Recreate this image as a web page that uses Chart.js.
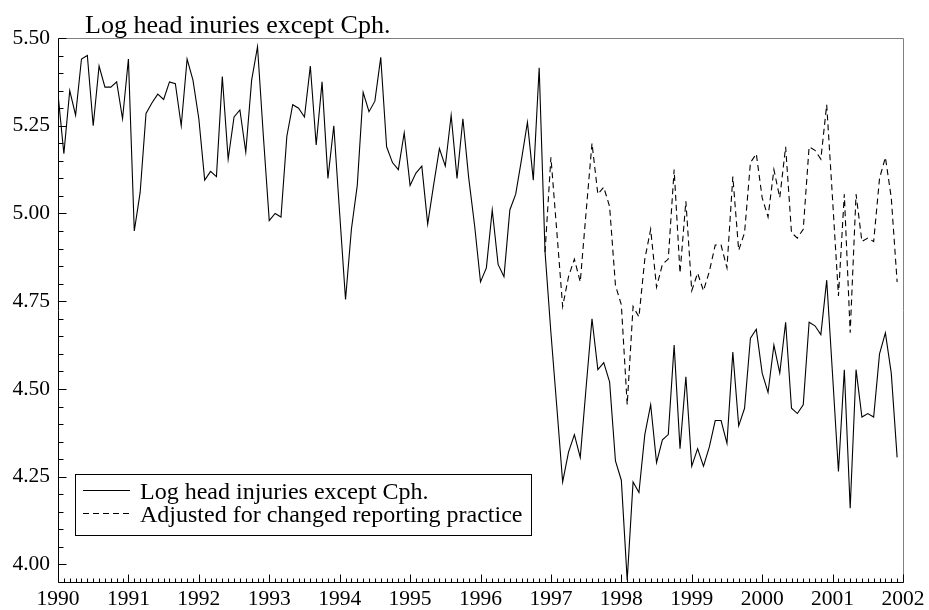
<!DOCTYPE html>
<html>
<head>
<meta charset="utf-8">
<script src="https://cdn.jsdelivr.net/npm/chart.js@4.4.0/dist/chart.umd.min.js"></script>
<style>
  html, body { margin: 0; padding: 0; background: #fff; }
  #wrap { width: 929px; height: 610px; }
</style>
</head>
<body>
<div id="wrap"><canvas id="chart" width="929" height="610"></canvas></div>
<script>
// ── Data ──────────────────────────────────────────────────────────────────
const TITLE        = 'Log head inuries except Cph.';
const SERIES_NAMES = ['Log head injuries except Cph.', 'Adjusted for changed reporting practice'];
const START_YEAR   = 1990;   // first month = Jan 1990
const ADJ_START    = 83;     // adjusted series starts Dec 1996 (month index)

// monthly, Jan 1990 .. Dec 2001
const headInjuries = [
  5.34, 5.17, 5.35, 5.28, 5.44, 5.45, 5.25, 5.42, 5.36, 5.36, 5.375, 5.27,
  5.44, 4.95, 5.06, 5.285, 5.315, 5.34, 5.325, 5.375, 5.37, 5.25, 5.44, 5.38,
  5.27, 5.095, 5.12, 5.105, 5.39, 5.155, 5.275, 5.295, 5.175, 5.38, 5.475, 5.22,
  4.98, 5.00, 4.99, 5.22, 5.31, 5.30, 5.275, 5.42, 5.195, 5.375, 5.10, 5.25,
  5.00, 4.755, 4.955, 5.08, 5.345, 5.29, 5.32, 5.445, 5.19, 5.145, 5.125, 5.23,
  5.08, 5.115, 5.135, 4.97, 5.08, 5.185, 5.135, 5.28, 5.10, 5.27, 5.10, 4.965,
  4.805, 4.845, 5.01, 4.855, 4.82, 5.01, 5.055, 5.155, 5.26, 5.095, 5.415, 4.89,
  4.66, 4.45, 4.235, 4.32, 4.37, 4.305, 4.505, 4.70, 4.555, 4.575, 4.52, 4.295,
  4.24, 3.955, 4.235, 4.205, 4.37, 4.455, 4.29, 4.355, 4.37, 4.625, 4.33, 4.535,
  4.28, 4.33, 4.28, 4.335, 4.41, 4.41, 4.345, 4.605, 4.395, 4.445, 4.645, 4.67,
  4.545, 4.49, 4.625, 4.545, 4.69, 4.445, 4.43, 4.455, 4.69, 4.68, 4.655, 4.81,
  4.54, 4.265, 4.555, 4.16, 4.555, 4.42, 4.43, 4.42, 4.60, 4.66, 4.545, 4.305
];

// monthly, Dec 1996 .. Dec 2001
const adjusted = [
  4.89,
  5.16, 4.95, 4.735, 4.82, 4.87, 4.805, 5.005, 5.20, 5.055, 5.075, 5.02, 4.795,
  4.74, 4.455, 4.735, 4.705, 4.87, 4.955, 4.79, 4.855, 4.87, 5.125, 4.83, 5.035,
  4.78, 4.83, 4.78, 4.835, 4.91, 4.91, 4.845, 5.105, 4.895, 4.945, 5.145, 5.17,
  5.045, 4.99, 5.125, 5.045, 5.19, 4.945, 4.93, 4.955, 5.19, 5.18, 5.155, 5.31,
  5.04, 4.765, 5.055, 4.66, 5.055, 4.92, 4.93, 4.92, 5.10, 5.16, 5.045, 4.805
];

const yearTicks  = [1990, 1991, 1992, 1993, 1994, 1995, 1996, 1997, 1998, 1999, 2000, 2001, 2002];
const valueTicks = [4.00, 4.25, 4.50, 4.75, 5.00, 5.25, 5.50];

// ── Style ─────────────────────────────────────────────────────────────────
const SERIF = "'Liberation Serif', 'DejaVu Serif', serif";
const DASH  = [6, 4];

// ── Frame, ticks, title and legend ───────────────────────────────────────
const framePlugin = {
  id: 'frame',
  afterDraw(chart) {
    const { ctx, chartArea: a, scales: { x, y } } = chart;
    const L = Math.round(a.left) + 0.5, R = Math.round(a.right) + 0.5;
    const T = Math.round(a.top) + 0.5,  B = Math.round(a.bottom) + 0.5;
    ctx.save();
    ctx.lineWidth = 1;

    // grey top / right edges
    ctx.strokeStyle = '#808080';
    ctx.beginPath();
    ctx.moveTo(L, T); ctx.lineTo(R, T); ctx.lineTo(R, B);
    ctx.stroke();

    // black axes
    ctx.strokeStyle = '#000';
    ctx.beginPath();
    ctx.moveTo(L, T); ctx.lineTo(L, B); ctx.lineTo(R, B);
    ctx.stroke();

    // y ticks every 0.05, major every 0.25
    ctx.beginPath();
    for (let k = 0; k <= 30; k++) {
      const py = Math.round(y.getPixelForValue(4 + k * 0.05)) + 0.5;
      ctx.moveTo(L, py); ctx.lineTo(L + (k % 5 === 0 ? 8 : 5), py);
    }
    // x ticks every month, major every year
    const months = (yearTicks[yearTicks.length - 1] - yearTicks[0]) * 12;
    for (let m = 0; m <= months; m++) {
      const px = Math.round(x.getPixelForValue(yearTicks[0] + m / 12)) + 0.5;
      ctx.moveTo(px, B); ctx.lineTo(px, B - (m % 12 === 0 ? 8 : 4));
    }
    ctx.stroke();

    // title
    ctx.fillStyle = '#000';
    ctx.font = '26px ' + SERIF;
    ctx.textBaseline = 'alphabetic';
    ctx.textAlign = 'left';
    ctx.fillText(TITLE, 85, 33);

    // legend box
    ctx.fillStyle = '#fff';
    ctx.fillRect(75.5, 474.5, 456, 61);
    ctx.strokeRect(75.5, 474.5, 456, 61);
    ctx.fillStyle = '#000';
    ctx.font = '24px ' + SERIF;
    const rows = [490.5, 513.5];
    rows.forEach((ry, i) => {
      ctx.setLineDash(i === 1 ? DASH : []);
      ctx.beginPath();
      ctx.moveTo(83, ry); ctx.lineTo(130, ry);
      ctx.stroke();
      ctx.setLineDash([]);
      ctx.fillText(SERIES_NAMES[i], 140, ry + 8);
    });
    ctx.restore();
  }
};

// ── Chart ─────────────────────────────────────────────────────────────────
new Chart(document.getElementById('chart'), {
  type: 'line',
  data: {
    datasets: [
      {
        label: SERIES_NAMES[0],
        data: headInjuries.map((v, i) => ({ x: START_YEAR + i / 12, y: v })),
        borderColor: '#000', borderWidth: 1.1, pointRadius: 0, tension: 0, fill: false,
      },
      {
        label: SERIES_NAMES[1],
        data: adjusted.map((v, i) => ({ x: START_YEAR + (ADJ_START + i) / 12, y: v })),
        borderColor: '#000', borderWidth: 1.1, borderDash: DASH, pointRadius: 0, tension: 0, fill: false,
      },
    ],
  },
  options: {
    responsive: false,
    animation: false,
    layout: { padding: { top: 38, right: 26, left: 0, bottom: 0 } },
    plugins: { legend: { display: false }, tooltip: { enabled: false }, title: { display: false } },
    scales: {
      x: {
        type: 'linear', min: yearTicks[0], max: yearTicks[yearTicks.length - 1],
        afterBuildTicks: s => { s.ticks = yearTicks.map(v => ({ value: v })); },
        afterFit: s => { s.height = 28; },
        grid: { display: false, drawTicks: false }, border: { display: false },
        ticks: { color: '#000', font: { family: SERIF, size: 21.5 }, padding: 4, maxRotation: 0, autoSkip: false,
                 callback: v => String(v) },
      },
      y: {
        type: 'linear', min: 3.95, max: 5.5,
        afterBuildTicks: s => { s.ticks = valueTicks.map(v => ({ value: v })); },
        afterFit: s => { s.width = 58; },
        grid: { display: false, drawTicks: false }, border: { display: false },
        ticks: { color: '#000', font: { family: SERIF, size: 21.5 }, padding: 8, autoSkip: false,
                 callback: v => v.toFixed(2) },
      },
    },
  },
  plugins: [framePlugin],
});
</script>
</body>
</html>
